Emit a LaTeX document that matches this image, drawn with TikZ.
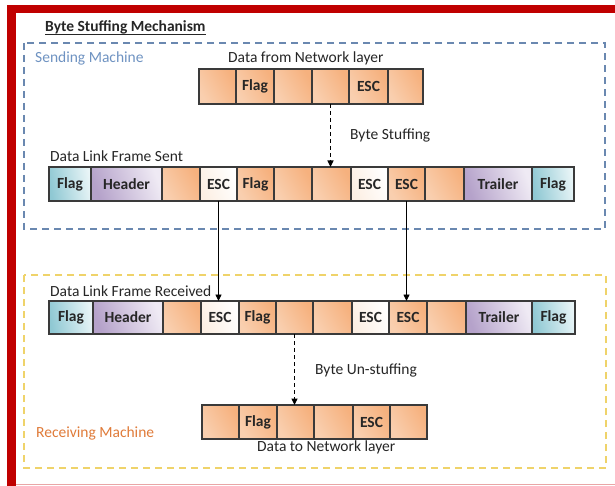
\documentclass[tikz,border=0pt]{standalone}
\usepackage{fontspec}
\setmainfont{Carlito}
\usetikzlibrary{arrows.meta}

\definecolor{frameRed}{HTML}{C00000}
\definecolor{cellLine}{HTML}{3A3A3A}
\definecolor{cellText}{HTML}{262626}
\definecolor{sendBlue}{HTML}{6F93C2}
\definecolor{recvOrange}{HTML}{E07B39}
\definecolor{boxBlue}{HTML}{6A88B0}
\definecolor{boxYellow}{HTML}{EFD36A}
\definecolor{oA}{HTML}{F9CFAF}
\definecolor{oB}{HTML}{FEF0E5}
\definecolor{oC}{HTML}{F6B17E}
\definecolor{tA}{HTML}{8FC8D3}
\definecolor{tB}{HTML}{E9F5F7}
\definecolor{pA}{HTML}{B5A2CA}
\definecolor{pB}{HTML}{EFEAF4}
\definecolor{wA}{HTML}{FCEFE3}
\definecolor{wB}{HTML}{FFFFFF}

\tikzset{
  cell/.style={draw=cellLine, line width=1.2pt, inner sep=0pt, outer sep=0pt,
    minimum height=34pt, text=cellText, font=\bfseries\fontsize{15.5}{18}\selectfont},
  ocell/.style={cell, left color=oA, middle color=oB, right color=oC, shading angle=120},
  tcell/.style={cell, left color=tA, right color=tB, shading angle=100},
  pcell/.style={cell, left color=pA, right color=pB, shading angle=110},
  wcell/.style={cell, left color=wA, right color=wB, shading angle=110},
  lbl/.style={inner sep=0pt, anchor=base west, text=cellText, font=\fontsize{15.5}{18}\selectfont},
  machine/.style={dashed, dash pattern=on 7pt off 5pt, line width=1.6pt},
  dasharrow/.style={-{Triangle[length=6.5pt,width=6pt]}, dash pattern=on 4pt off 3pt, line width=1.2pt, draw=black},
  solidarrow/.style={-{Triangle[length=6.5pt,width=6pt]}, line width=0.9pt, draw=black}
}

\begin{document}
\begin{tikzpicture}[x=1pt,y=-1pt]
\useasboundingbox (0,0) rectangle (615,486);
\fill[white] (0,0) rectangle (615,486);

% red page frame
\fill[frameRed] (7,5) rectangle (615,13);
\fill[frameRed] (7,5) rectangle (16,486);
\draw[frameRed!35, line width=1.2pt] (16,484.5) -- (615,484.5);

% title
\node[lbl, font=\bfseries\fontsize{15.5}{18}\selectfont] (title) at (45,32) {Byte Stuffing Mechanism};
\draw[cellText, line width=0.9pt] ([yshift=-2pt]title.base west) -- ([yshift=-2pt]title.base east);

% machine boundaries
\draw[machine, boxBlue] (24,43) rectangle (605,229);
\draw[machine, boxYellow] (24,275) rectangle (606,468);

\node[lbl, text=sendBlue] (sendlbl) at (35,63) {Sending Machine};
\node[lbl, text=recvOrange] (recvlbl) at (36,437) {Receiving Machine};

% data from the network layer
\node[lbl] (netin) at (228,63) {Data from Network layer};
\node[ocell, minimum width=37pt, minimum height=35pt] (t1) at (217.5,86.5) {};
\node[ocell, minimum width=38pt, minimum height=35pt] (t2) at (255,86.5) {Flag};
\node[ocell, minimum width=38pt, minimum height=35pt] (t3) at (293,86.5) {};
\node[ocell, minimum width=37pt, minimum height=35pt] (t4) at (330.5,86.5) {};
\node[ocell, minimum width=39pt, minimum height=35pt] (t5) at (368.5,86.5) {ESC};
\node[ocell, minimum width=35pt, minimum height=35pt] (t6) at (405.5,86.5) {};

\node[lbl] (stufflbl) at (350,140) {Byte Stuffing};

% frame sent
\node[lbl] (sentlbl) at (50,161.5) {Data Link Frame Sent};
\node[tcell, minimum width=42pt] (s1) at (70,184) {Flag};
\node[pcell, minimum width=71pt] (s2) at (126.5,184) {Header};
\node[ocell, minimum width=38pt] (s3) at (181,184) {};
\node[wcell, minimum width=37pt] (s4) at (218.5,184) {ESC};
\node[ocell, minimum width=37pt] (s5) at (255.5,184) {Flag};
\node[ocell, minimum width=38pt] (s6) at (293,184) {};
\node[ocell, minimum width=39pt] (s7) at (331.5,184) {};
\node[wcell, minimum width=37pt] (s8) at (369.5,184) {ESC};
\node[ocell, minimum width=37pt] (s9) at (406.5,184) {ESC};
\node[ocell, minimum width=39pt] (s10) at (444.5,184) {};
\node[pcell, minimum width=68pt] (s11) at (498,184) {Trailer};
\node[tcell, minimum width=42pt] (s12) at (553,184) {Flag};

% frame received
\node[lbl] (recvfr) at (50,296) {Data Link Frame Received};
\node[tcell, minimum width=44pt, minimum height=33pt] (r1) at (71,317.5) {Flag};
\node[pcell, minimum width=70pt, minimum height=33pt] (r2) at (128,317.5) {Header};
\node[ocell, minimum width=38pt, minimum height=33pt] (r3) at (182,317.5) {};
\node[wcell, minimum width=38pt, minimum height=33pt] (r4) at (220,317.5) {ESC};
\node[ocell, minimum width=37pt, minimum height=33pt] (r5) at (257.5,317.5) {Flag};
\node[ocell, minimum width=37pt, minimum height=33pt] (r6) at (294.5,317.5) {};
\node[ocell, minimum width=39pt, minimum height=33pt] (r7) at (332.5,317.5) {};
\node[wcell, minimum width=37pt, minimum height=33pt] (r8) at (370.5,317.5) {ESC};
\node[ocell, minimum width=38pt, minimum height=33pt] (r9) at (408,317.5) {ESC};
\node[ocell, minimum width=39pt, minimum height=33pt] (r10) at (446.5,317.5) {};
\node[pcell, minimum width=66pt, minimum height=33pt] (r11) at (499,317.5) {Trailer};
\node[tcell, minimum width=43pt, minimum height=33pt] (r12) at (553.5,317.5) {Flag};

\node[lbl] (unstufflbl) at (315,374) {Byte Un-stuffing};

% data to the network layer
\node[ocell, minimum width=37pt] (b1) at (220.5,422) {};
\node[ocell, minimum width=38pt] (b2) at (258,422) {Flag};
\node[ocell, minimum width=37pt] (b3) at (295.5,422) {};
\node[ocell, minimum width=39pt] (b4) at (333.5,422) {};
\node[ocell, minimum width=37pt] (b5) at (371.5,422) {ESC};
\node[ocell, minimum width=37pt] (b6) at (408.5,422) {};
\node[lbl] (netout) at (257,451.5) {Data to Network layer};

% connectors
\draw[dasharrow] (t4.south) -- (t4.south |- s7.north);
\draw[solidarrow] (s4.south) -- (s4.south |- r4.north);
\draw[solidarrow] (s9.south) -- (s9.south |- r9.north);
\draw[dasharrow] (r6.south) -- (r6.south |- b3.north);
\end{tikzpicture}
\end{document}
